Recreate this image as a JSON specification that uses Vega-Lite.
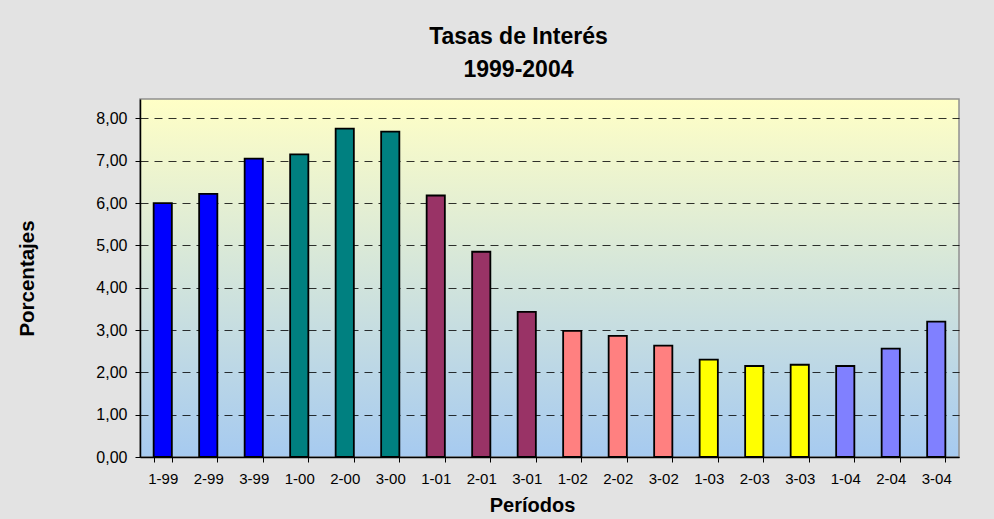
{
  "$schema": "https://vega.github.io/schema/vega-lite/v6.json",
  "width": 819,
  "height": 358,
  "autosize": {"type": "none"},
  "padding": {"left": 140, "top": 99, "right": 35, "bottom": 62},
  "background": "#e3e3e3",
  "title": {
    "text": ["Tasas de Interés", "1999-2004"],
    "font": "Liberation Sans",
    "fontSize": 23,
    "fontWeight": "bold",
    "color": "#000000",
    "lineHeight": 33,
    "anchor": "middle",
    "dx": -31,
    "offset": 17
  },
  "data": {
    "values": [
      {"periodo": "1-99", "anio": "1999", "tasa": 6.0},
      {"periodo": "2-99", "anio": "1999", "tasa": 6.22},
      {"periodo": "3-99", "anio": "1999", "tasa": 7.05},
      {"periodo": "1-00", "anio": "2000", "tasa": 7.15},
      {"periodo": "2-00", "anio": "2000", "tasa": 7.76},
      {"periodo": "3-00", "anio": "2000", "tasa": 7.69},
      {"periodo": "1-01", "anio": "2001", "tasa": 6.18},
      {"periodo": "2-01", "anio": "2001", "tasa": 4.85},
      {"periodo": "3-01", "anio": "2001", "tasa": 3.43},
      {"periodo": "1-02", "anio": "2002", "tasa": 2.98},
      {"periodo": "2-02", "anio": "2002", "tasa": 2.86},
      {"periodo": "3-02", "anio": "2002", "tasa": 2.63},
      {"periodo": "1-03", "anio": "2003", "tasa": 2.3},
      {"periodo": "2-03", "anio": "2003", "tasa": 2.15},
      {"periodo": "3-03", "anio": "2003", "tasa": 2.18},
      {"periodo": "1-04", "anio": "2004", "tasa": 2.15},
      {"periodo": "2-04", "anio": "2004", "tasa": 2.56},
      {"periodo": "3-04", "anio": "2004", "tasa": 3.2}
    ]
  },
  "mark": {"type": "bar", "stroke": "#000000", "strokeWidth": 1.8},
  "encoding": {
    "x": {
      "field": "periodo",
      "type": "nominal",
      "sort": null,
      "scale": {"paddingInner": 0.6, "paddingOuter": 0.3},
      "axis": {
        "title": "Períodos",
        "titleFont": "Liberation Sans",
        "titleFontSize": 20,
        "titleFontWeight": "bold",
        "titleColor": "#000000",
        "titlePadding": 9,
        "titleX": 392,
        "labelAngle": 0,
        "labelFont": "Liberation Sans",
        "labelFontSize": 15,
        "labelColor": "#000000",
        "labelPadding": 9,
        "tickBand": "extent",
        "tickSize": 5,
        "tickColor": "#000000",
        "domainColor": "#000000",
        "domainWidth": 1.5,
        "grid": false
      }
    },
    "y": {
      "field": "tasa",
      "type": "quantitative",
      "scale": {"domain": [0, 8.46], "nice": false},
      "axis": {
        "title": "Porcentajes",
        "titleFont": "Liberation Sans",
        "titleFontSize": 20.5,
        "titleFontWeight": "bold",
        "titleColor": "#000000",
        "titlePadding": 58,
        "values": [0, 1, 2, 3, 4, 5, 6, 7, 8],
        "labelExpr": "replace(format(datum.value, '.2f'), '.', ',')",
        "labelFont": "Liberation Sans",
        "labelFontSize": 16,
        "labelColor": "#000000",
        "labelPadding": 8,
        "tickSize": 5,
        "tickColor": "#000000",
        "domainColor": "#000000",
        "domainWidth": 1.5,
        "grid": true,
        "gridColor": "#000000",
        "gridOpacity": 0.8,
        "gridDash": [8, 6],
        "gridWidth": 1
      }
    },
    "color": {
      "field": "anio",
      "type": "nominal",
      "scale": {
        "domain": ["1999", "2000", "2001", "2002", "2003", "2004"],
        "range": ["#0000ff", "#008080", "#993366", "#ff8080", "#ffff00", "#8080ff"]
      },
      "legend": null
    }
  },
  "config": {
    "view": {
      "fill": {"expr": "{gradient: 'linear', x1: 0, y1: 0, x2: 0, y2: 1, stops: [{offset: 0, color: '#ffffc6'}, {offset: 1, color: '#a6caf0'}]}"},
      "stroke": "#909090",
      "strokeWidth": 1.5
    }
  }
}
